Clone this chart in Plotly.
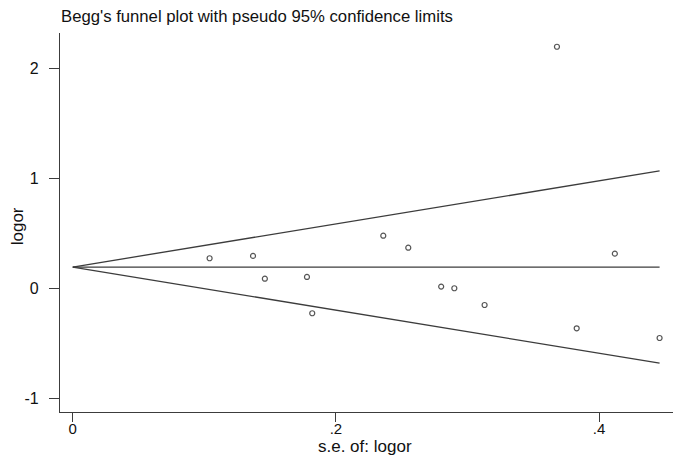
import plotly.graph_objects as go

# Study data
se_logor = [0.104, 0.137, 0.146, 0.178, 0.182, 0.236, 0.255, 0.280, 0.290, 0.313, 0.383, 0.412, 0.446, 0.368]
logor = [0.273, 0.294, 0.087, 0.103, -0.227, 0.478, 0.369, 0.015, 0.000, -0.152, -0.364, 0.315, -0.452, 2.196]

pooled = 0.193
z = 1.96
x_ticks = [0, 0.2, 0.4]
x_ticklabels = ["0", ".2", ".4"]
y_ticks = [-1, 0, 1, 2]
y_ticklabels = ["-1", "0", "1", "2"]

max_se = max(se_logor)
line_x = [0, max_se]

FONT = "Liberation Sans, Arial, sans-serif"
LINE_C = "#3c3c3c"
TXT_C = "#111111"

fig = go.Figure()
fig.add_trace(go.Scatter(x=line_x, y=[pooled, pooled + z * max_se], mode="lines",
                         line=dict(color=LINE_C, width=1.3), hoverinfo="skip"))
fig.add_trace(go.Scatter(x=line_x, y=[pooled, pooled], mode="lines",
                         line=dict(color=LINE_C, width=1.3), hoverinfo="skip"))
fig.add_trace(go.Scatter(x=line_x, y=[pooled, pooled - z * max_se], mode="lines",
                         line=dict(color=LINE_C, width=1.3), hoverinfo="skip"))
fig.add_trace(go.Scatter(x=se_logor, y=logor, mode="markers",
                         marker=dict(symbol="circle-open", size=5, color="#555555",
                                     line=dict(width=1.2, color="#555555"))))

fig.update_layout(
    width=683, height=466,
    margin=dict(l=60, r=10, t=33, b=54),
    paper_bgcolor="white", plot_bgcolor="white",
    showlegend=False,
    font=dict(family=FONT, size=15, color=TXT_C),
    xaxis=dict(range=[-0.0097, 0.4562], tickvals=x_ticks, ticktext=x_ticklabels,
               showgrid=False, zeroline=False, showline=True, linecolor=LINE_C, linewidth=1.2,
               ticks="outside", ticklen=9, tickwidth=1.2, tickcolor=LINE_C,
               ticklabelstandoff=-6,
               tickfont=dict(size=15, family=FONT, color=TXT_C)),
    yaxis=dict(range=[-1.125, 2.321], tickvals=y_ticks, ticktext=y_ticklabels,
               showgrid=False, zeroline=False, showline=True, linecolor=LINE_C, linewidth=1.2,
               ticks="outside", ticklen=10, tickwidth=1.2, tickcolor=LINE_C,
               ticklabelstandoff=7,
               tickfont=dict(size=16, family=FONT, color=TXT_C)),
    annotations=[
        dict(text="Begg's funnel plot with pseudo 95% confidence limits", xref="paper", yref="paper",
             x=-0.002, y=1.0, xanchor="left", yanchor="middle", yshift=17, showarrow=False,
             font=dict(size=16.7, family=FONT, color=TXT_C)),
        dict(text="s.e. of: logor", xref="paper", yref="paper", x=0.497, y=0, xanchor="center",
             yanchor="middle", yshift=-34, showarrow=False, font=dict(size=17, family=FONT, color=TXT_C)),
        dict(text="logor", xref="paper", yref="paper", x=0, y=0.49, xanchor="center", yanchor="middle",
             xshift=-43, textangle=-90, showarrow=False, font=dict(size=17, family=FONT, color=TXT_C)),
    ],
)

fig.write_html("out.html", config={"displayModeBar": False},
               post_script="document.body.style.margin='0px';")
